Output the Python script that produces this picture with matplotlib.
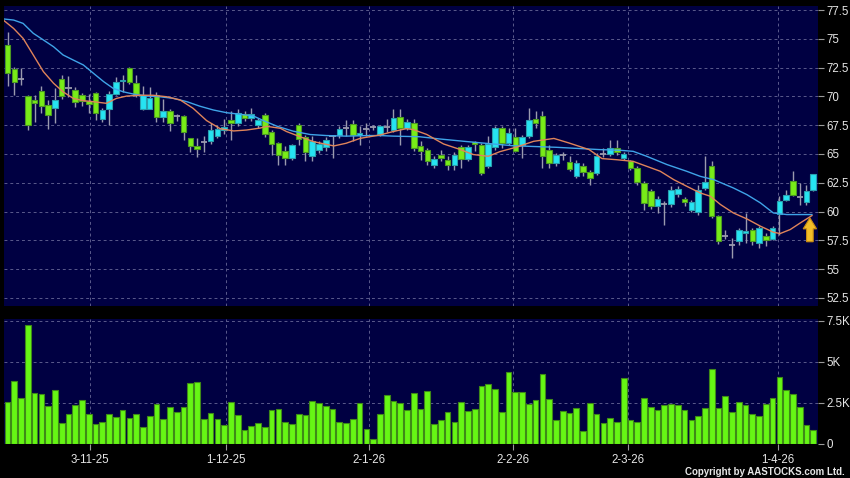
import numpy as np
import matplotlib
matplotlib.use("Agg")
import matplotlib.pyplot as plt
from matplotlib.patches import Polygon

# ---- daily candles ----
opens = [74.48, 72.40, 71.54, 70.00, 69.66, 70.47, 69.29, 69.03, 71.54, 70.76,
         70.59, 70.15, 69.58, 70.30, 68.00, 68.89, 70.24, 71.30, 72.46, 71.20,
         68.94, 68.94, 70.15, 68.22, 68.71, 68.30, 68.30, 66.35, 65.71, 66.06,
         66.16, 66.54, 67.06, 67.99, 67.70, 68.49, 68.14, 67.56, 68.37, 66.89,
         65.96, 65.23, 64.65, 67.50, 66.45, 64.80, 65.38, 65.58, 66.54, 66.63,
         67.27, 67.62, 66.63, 67.18, 67.35, 66.74, 67.35, 67.12, 68.20, 67.27,
         67.70, 65.67, 65.38, 64.07, 64.94, 64.51, 64.01, 65.58, 64.56, 66.05,
         65.81, 63.98, 65.58, 67.27, 65.96, 66.45, 65.81, 66.54, 68.08, 68.28,
         65.38, 64.22, 64.94, 64.27, 63.05, 63.92, 63.40, 63.34, 65.00, 65.03,
         65.52, 64.65, 64.36, 63.79, 62.49, 61.76, 60.52, 60.69, 60.69, 61.56,
         61.10, 60.17, 60.00, 62.05, 63.99, 59.60, 57.86, 57.14, 57.43, 58.10,
         58.44, 57.28, 57.92, 57.63, 59.80, 61.00, 62.63, 61.24, 60.80, 61.85]
highs = [75.58, 72.55, 72.50, 70.10, 70.10, 70.90, 69.66, 70.76, 71.83, 71.77,
         70.82, 70.30, 70.24, 70.40, 69.00, 70.47, 71.68, 71.83, 72.55, 71.83,
         70.90, 70.80, 70.40, 69.75, 68.94, 68.50, 68.42, 66.35, 66.35, 66.60,
         67.70, 67.50, 68.00, 68.70, 68.87, 68.72, 69.00, 68.14, 68.58, 67.12,
         66.00, 65.67, 65.85, 67.70, 66.69, 66.54, 66.10, 66.45, 66.69, 67.41,
         67.99, 67.99, 67.41, 67.70, 67.56, 67.56, 68.00, 68.87, 68.87, 68.00,
         68.08, 66.10, 65.52, 64.80, 65.38, 64.80, 65.17, 65.81, 65.81, 66.16,
         65.96, 66.54, 67.41, 67.41, 67.27, 67.27, 66.69, 69.00, 68.72, 68.72,
         65.81, 65.10, 65.20, 64.80, 64.50, 64.22, 63.63, 65.10, 65.50, 66.24,
         66.24, 65.20, 64.50, 63.99, 62.63, 62.00, 61.33, 60.90, 62.20, 62.20,
         61.30, 61.00, 62.34, 64.80, 64.36, 59.70, 58.40, 57.72, 58.58, 59.88,
         58.58, 58.73, 58.15, 58.73, 61.33, 61.90, 63.50, 62.50, 62.34, 63.30]
lows = [70.90, 70.10, 70.96, 67.10, 67.80, 68.60, 67.20, 67.73, 69.75, 69.95,
        69.09, 69.15, 68.60, 67.93, 67.80, 67.50, 70.10, 70.40, 71.10, 69.95,
        68.80, 68.90, 67.80, 67.80, 66.98, 67.90, 66.20, 65.20, 64.77, 65.20,
        65.87, 66.40, 66.70, 66.25, 67.40, 67.85, 67.85, 67.27, 66.50, 64.94,
        64.07, 64.01, 64.50, 65.81, 64.42, 64.36, 65.10, 65.30, 64.65, 66.40,
        66.54, 66.10, 65.80, 66.54, 67.10, 66.54, 66.90, 66.90, 65.81, 67.10,
        65.23, 64.50, 64.07, 63.78, 64.36, 63.63, 63.63, 63.78, 64.36, 65.23,
        63.20, 63.78, 65.38, 65.52, 65.81, 65.17, 64.65, 66.40, 67.27, 63.78,
        63.78, 64.00, 64.50, 63.49, 62.90, 63.05, 62.30, 63.20, 64.70, 64.80,
        64.90, 64.50, 63.60, 62.30, 60.17, 60.20, 59.88, 58.87, 60.40, 61.30,
        60.50, 60.00, 59.74, 61.90, 59.45, 57.20, 57.60, 55.98, 57.14, 57.30,
        57.14, 56.85, 56.99, 57.50, 58.00, 60.90, 61.33, 60.60, 60.60, 61.80]
closes = [72.06, 71.25, 71.54, 67.50, 69.46, 69.17, 68.42, 69.66, 70.00, 70.76,
          69.52, 69.60, 69.32, 68.60, 68.86, 70.24, 71.25, 71.45, 71.25, 70.24,
          70.10, 69.87, 68.22, 68.74, 67.73, 68.30, 66.87, 65.71, 65.43, 66.06,
          67.12, 67.15, 67.35, 67.70, 68.58, 68.14, 68.49, 67.99, 66.74, 65.87,
          64.88, 64.65, 65.76, 66.34, 65.17, 66.10, 65.87, 66.25, 66.54, 67.18,
          67.27, 66.69, 66.83, 67.18, 67.35, 67.41, 67.35, 68.14, 67.27, 67.79,
          65.52, 65.29, 64.36, 64.56, 64.65, 64.01, 64.94, 64.56, 65.58, 65.87,
          63.34, 65.87, 67.27, 65.96, 66.83, 65.29, 66.45, 67.99, 67.70, 64.80,
          64.22, 64.94, 64.94, 63.72, 64.22, 63.43, 62.90, 64.85, 65.00, 65.52,
          65.14, 65.03, 63.79, 62.57, 60.75, 60.46, 61.10, 60.69, 61.90, 61.97,
          60.87, 60.81, 61.85, 62.57, 59.60, 57.43, 57.86, 57.14, 58.44, 58.30,
          57.43, 58.58, 57.49, 58.58, 60.90, 61.47, 61.47, 61.24, 61.76, 63.27]
volume_k = [2.52, 3.82, 2.76, 7.24, 3.07, 3.03, 2.28, 3.27, 1.24, 1.79,
            2.36, 2.68, 1.81, 1.20, 1.34, 1.83, 1.61, 2.07, 1.59, 1.83,
            1.02, 1.69, 2.40, 1.50, 2.22, 1.93, 2.26, 3.70, 3.78, 1.48,
            1.89, 1.48, 1.14, 2.54, 1.75, 0.85, 1.08, 1.24, 1.00, 2.07,
            2.09, 1.30, 1.22, 1.79, 1.73, 2.58, 2.50, 2.32, 2.13, 1.32,
            1.28, 1.50, 2.46, 0.89, 0.26, 1.83, 2.95, 2.60, 2.46, 2.07,
            3.09, 2.11, 3.21, 1.22, 1.42, 1.93, 1.32, 2.54, 1.97, 2.13,
            3.50, 3.64, 3.35, 1.91, 4.37, 3.13, 3.13, 2.44, 2.64, 4.23,
            2.74, 1.42, 2.01, 1.89, 2.15, 0.79, 2.48, 1.81, 1.28, 1.57,
            1.34, 3.98, 1.42, 1.34, 2.76, 2.24, 2.03, 2.36, 2.42, 2.34,
            2.07, 1.46, 1.67, 2.20, 4.57, 2.20, 2.93, 1.95, 2.54, 2.34,
            1.83, 1.69, 2.42, 2.80, 4.09, 3.27, 3.01, 2.24, 1.14, 0.83]

# ---- moving averages, sampled off the chart (position in bars, price) ----
ma_fast_x = [-0.5, 0.9, 2.3, 3.8, 5.3, 6.8, 8.2, 9.7, 11.2, 12.7, 14.6, 16.1, 17.6,
             19.6, 21.5, 23.5, 25.5, 27.4, 29.4, 31.4, 33.4, 35.3, 37.3, 38.3, 40.3,
             41.2, 43.2, 45.2, 48.2, 50.0, 52.1, 55.0, 56.9, 58.9, 59.9, 61.9, 64.4,
             66.8, 68.8, 71.0, 72.7, 75.2, 77.7, 80.7, 82.9, 85.9, 87.8, 90.0, 92.4,
             94.4, 96.4, 98.4, 100.3, 102.3, 103.8, 105.3, 107.2, 109.2, 111.2,
             113.1, 114.1, 115.6, 117.1, 118.8]
ma_fast = [76.57, 75.90, 75.04, 73.60, 72.15, 71.14, 70.40, 69.83, 69.63, 69.54, 69.40,
           69.83, 70.03, 70.10, 70.10, 69.97, 69.69, 68.97, 67.90, 67.20, 67.00, 67.08,
           67.25, 67.40, 67.23, 66.95, 66.50, 66.07, 65.70, 65.93, 66.36, 66.65, 66.94,
           67.20, 67.12, 66.70, 65.87, 65.40, 64.95, 64.80, 65.20, 65.60, 66.10, 66.35,
           65.96, 65.38, 64.60, 64.50, 64.36, 63.93, 63.50, 62.77, 62.20, 61.62, 61.33,
           60.61, 59.88, 59.36, 58.73, 58.21, 58.09, 58.44, 59.02, 59.65]
ma_slow_x = [-0.5, 0.9, 2.3, 3.8, 5.3, 6.8, 8.2, 9.7, 11.2, 12.7, 14.2, 15.6, 17.1,
             18.6, 20.6, 22.5, 24.5, 26.5, 28.4, 30.4, 32.4, 34.3, 36.3, 37.8, 39.8,
             42.2, 44.7, 47.1, 50.0, 53.4, 55.0, 57.0, 60.8, 63.9, 67.8, 71.7, 74.6,
             77.7, 81.1, 84.6, 87.5, 90.5, 92.4, 94.4, 97.4, 100.3, 102.3, 104.3,
             107.2, 109.2, 111.2, 113.1, 115.1, 118.8]
ma_slow = [76.72, 76.63, 76.34, 75.48, 74.90, 74.31, 73.60, 73.16, 72.73, 72.00, 71.28,
           70.70, 70.40, 70.20, 70.03, 69.97, 69.83, 69.54, 69.15, 68.82, 68.58, 68.45,
           68.30, 67.90, 67.41, 66.98, 66.69, 66.60, 66.55, 66.60, 66.60, 66.55, 66.50,
           66.30, 66.08, 65.87, 65.72, 65.65, 65.58, 65.47, 65.38, 65.32, 65.23, 64.80,
           64.08, 63.50, 63.06, 62.77, 62.05, 61.47, 60.75, 59.88, 59.74, 59.74]

date_pos = [12.2, 32.3, 53.4, 74.6, 91.7, 113.8]
date_labels = ["3-11-25", "1-12-25", "2-1-26", "2-2-26", "2-3-26", "1-4-26"]
price_ticks = [52.5, 55, 57.5, 60, 62.5, 65, 67.5, 70, 72.5, 75, 77.5]
vol_ticks = [0, 2.5, 5, 7.5]

# ---- style ----
NAVY = "#000042"
GRID = "#5a5a8c"
UP, UP_EDGE = "#26e4f2", "#2a9fae"
DN, DN_EDGE = "#78ec18", "#4c9a22"
WICK = "#9a9aae"
TXT = "#e6e6e6"
plt.rcParams["font.family"] = ["Liberation Sans", "DejaVu Sans"]

fig = plt.figure(figsize=(8.5, 4.78), dpi=100, facecolor="black")
axp = fig.add_axes([4 / 850, 1 - 306 / 478, 814 / 850, 300 / 478])
axv = fig.add_axes([4 / 850, 1 - 444 / 478, 814 / 850, 125 / 478])

o = np.array(opens); h = np.array(highs); l = np.array(lows); c = np.array(closes)
x = np.arange(len(c))
up = c > o
dn = c < o
flat = ~(up | dn)

for ax in (axp, axv):
    ax.set_facecolor(NAVY)
    for s in ax.spines.values():
        s.set_visible(False)
    ax.set_xlim(-0.52, 119.7)
    ax.set_xticks(date_pos)
    ax.grid(True, color=GRID, lw=0.7, ls=(0, (3, 3)))
    ax.set_axisbelow(True)
    ax.yaxis.tick_right()
    ax.tick_params(axis="y", colors="#9a9a9a", labelcolor=TXT, length=4,
                   width=0.8, pad=2, labelsize=8.3)

# price panel
axp.vlines(x, l, h, color=WICK, lw=1.0, zorder=2)
axp.bar(x[up], (c - o)[up], bottom=o[up], width=0.82, color=UP,
        edgecolor=UP_EDGE, lw=0.8, zorder=3)
axp.bar(x[dn], (o - c)[dn], bottom=c[dn], width=0.82, color=DN,
        edgecolor=DN_EDGE, lw=0.8, zorder=3)
axp.hlines(c[flat], x[flat] - 0.45, x[flat] + 0.45, color=WICK, lw=1.3, zorder=3)
axp.plot(ma_slow_x, ma_slow, color="#3fa4e8", lw=1.0, zorder=4)
axp.plot(ma_fast_x, ma_fast, color="#e0845a", lw=1.0, zorder=4)

# yellow arrow under the last averages
ax_c, tip, base, bot = 118.5, 59.45, 58.5, 57.38
axp.add_patch(Polygon([(ax_c, tip), (ax_c + 0.99, base), (ax_c + 0.49, base),
                       (ax_c + 0.49, bot), (ax_c - 0.49, bot), (ax_c - 0.49, base),
                       (ax_c - 0.99, base)], closed=True, fc="#f2bd28",
                      ec="#c98c12", lw=0.8, zorder=6))

axp.set_ylim(51.8, 77.85)
axp.set_yticks(price_ticks)
axp.set_yticklabels([f"{t:g}" for t in price_ticks])
axp.tick_params(axis="x", length=0, labelbottom=False)

# volume panel
axv.bar(x, volume_k, width=0.84, color="#66f614", edgecolor="#3f8a18", lw=0.8, zorder=3)
axv.set_ylim(-0.02, 7.6)
axv.set_yticks(vol_ticks)
axv.set_yticklabels(["0" if t == 0 else f"{t:g}K" for t in vol_ticks])
axv.set_xticklabels(date_labels)
axv.tick_params(axis="x", colors="#9a9a9a", labelcolor=TXT, length=4, width=0.8,
                pad=3, labelsize=8.3)

fig.text(0.994, 0.003, "Copyright by AASTOCKS.com Ltd.", color=TXT, fontsize=7.0,
         ha="right", va="bottom", fontweight="bold")

fig.savefig("out.png", dpi=100, facecolor="black")
